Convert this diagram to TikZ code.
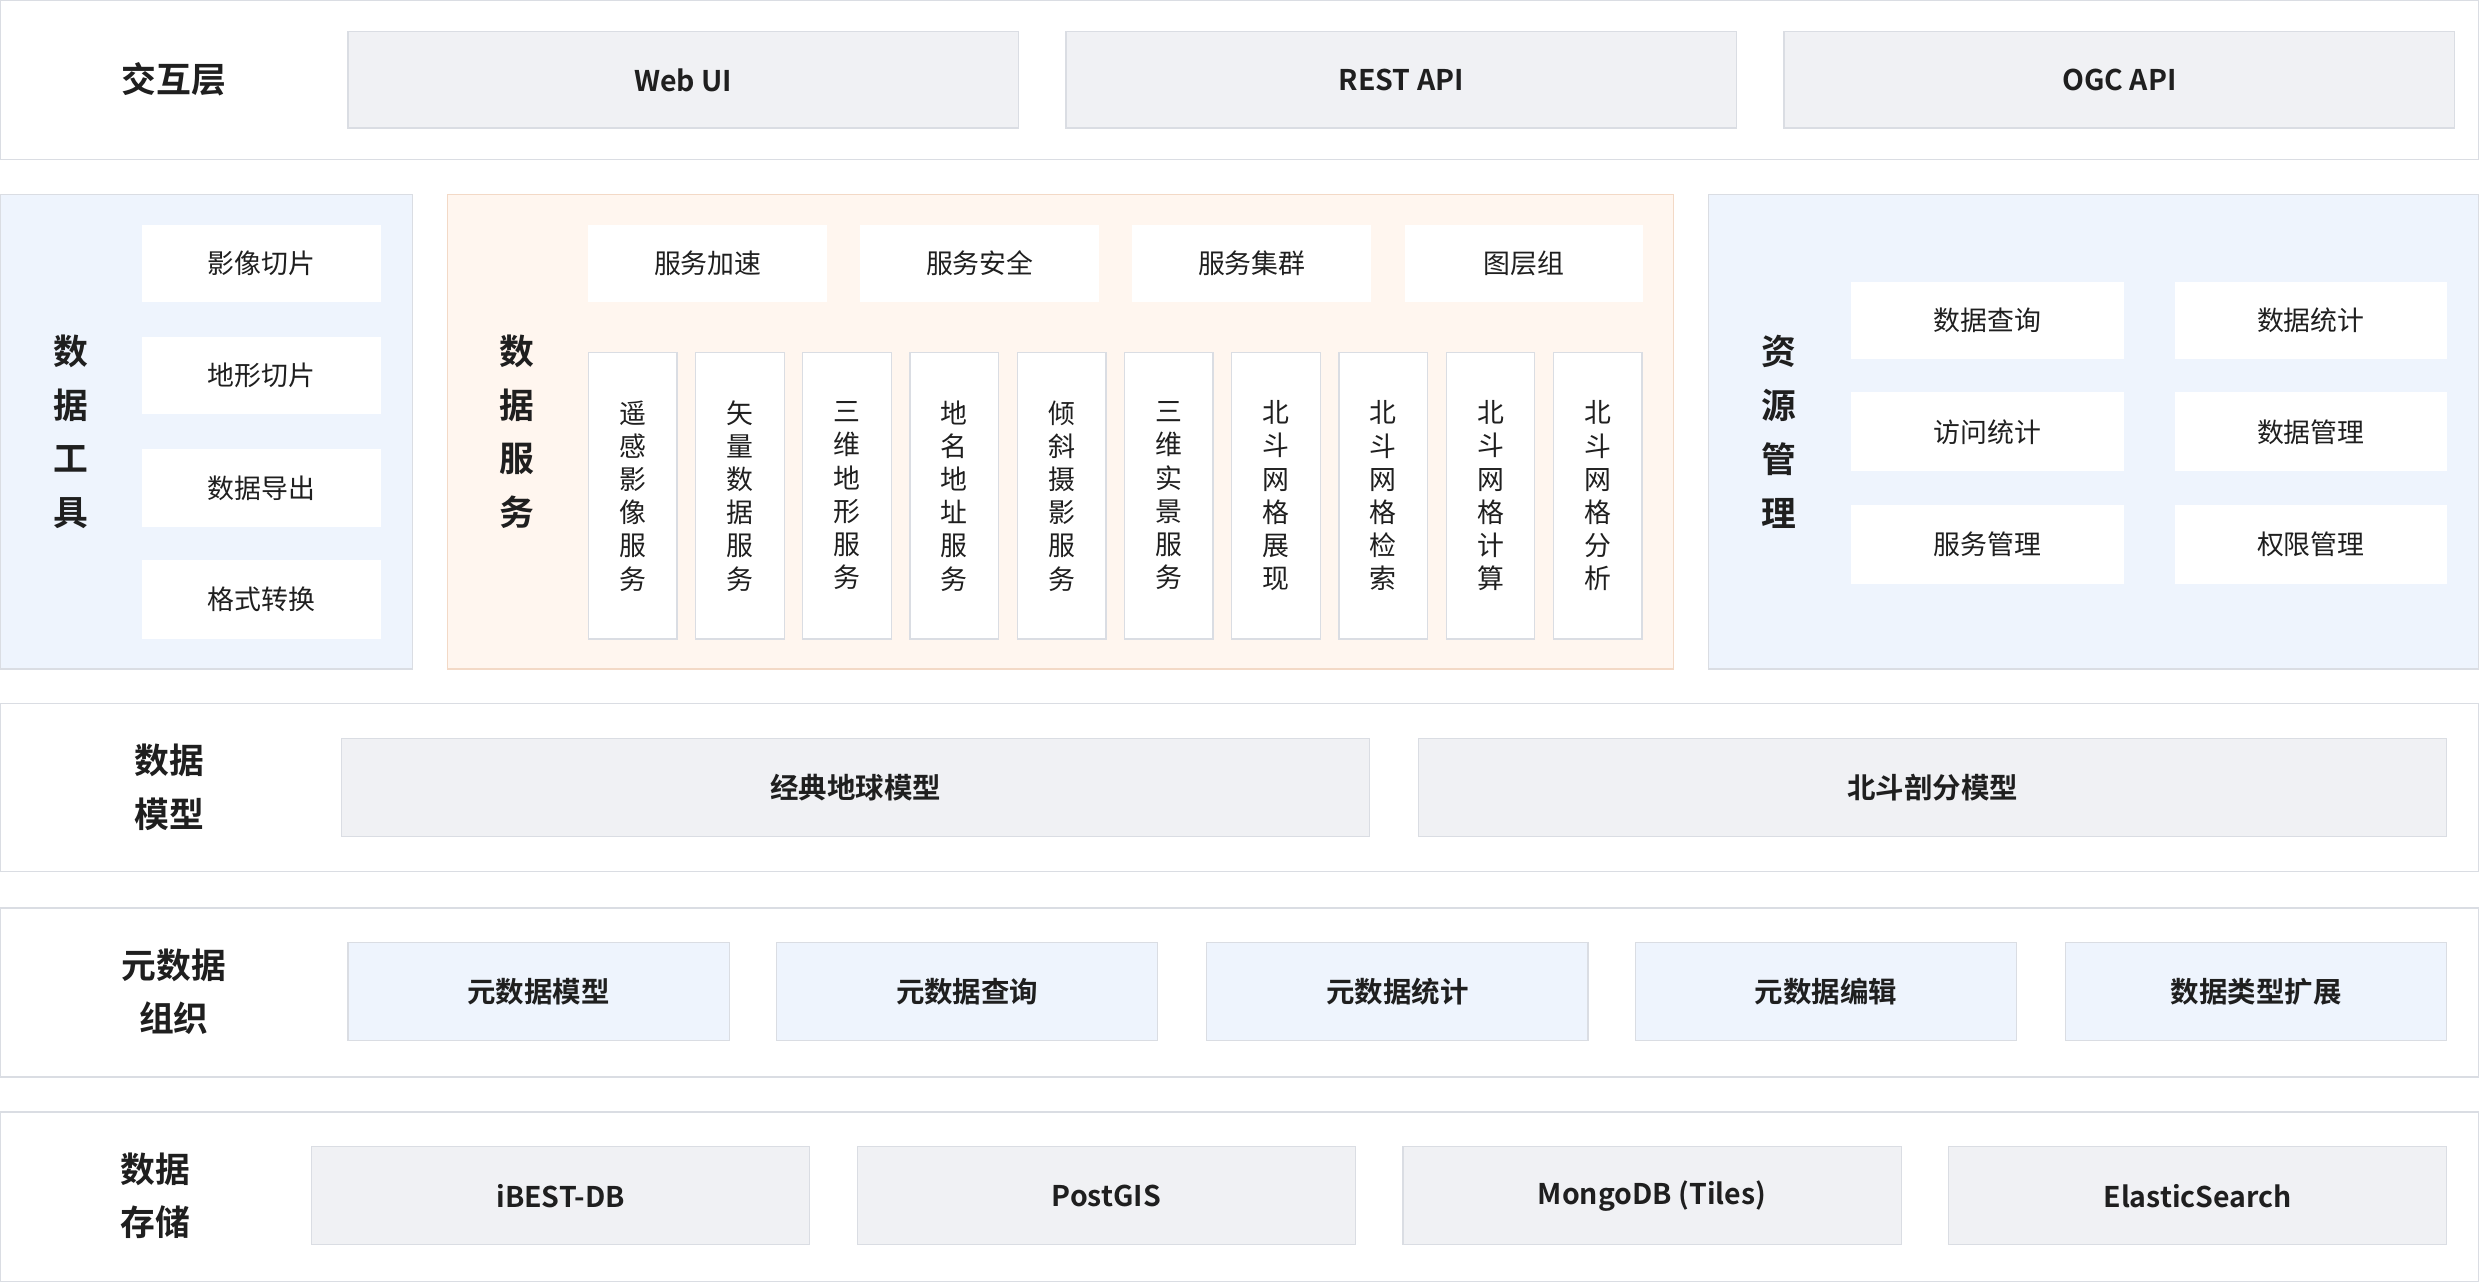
\documentclass[tikz,border=0pt]{standalone}
\usepackage{fontspec}
\setmainfont{Noto Sans CJK SC}
\newfontfamily\cjkb{Noto Sans CJK SC Bold}
\definecolor{bord}{HTML}{DADDE3}
\definecolor{grayfill}{HTML}{F0F1F4}
\definecolor{bluefill}{HTML}{EEF4FD}
\definecolor{orfill}{HTML}{FFF6EF}
\definecolor{orbord}{HTML}{F3D9C6}
\definecolor{txt}{HTML}{1F1F1F}
\tikzset{
 layer/.style={draw=bord,fill=white,line width=0.8pt},
 panel/.style={draw=bord,line width=0.8pt},
 gbox/.style={draw=bord,fill=grayfill,line width=0.8pt,font=\cjkb\fontsize{18}{20}\selectfont,text=txt},
 bbox/.style={draw=bord,fill=bluefill,line width=0.8pt,font=\cjkb\fontsize{18}{20}\selectfont,text=txt},
 wbox/.style={draw=none,fill=white,font=\fontsize{17}{20}\selectfont,text=txt},
 cbox/.style={draw=bord,fill=white,line width=0.8pt,font=\fontsize{17}{21}\selectfont,text=txt,align=center},
 lab/.style={font=\cjkb\fontsize{22}{34}\selectfont,text=txt,align=center},
}
\newcommand{\rb}[4]{\node[#1,minimum width=#3-#2,minimum height=#4] at ({(#2+#3)/2},0) {};}
\begin{document}
\begin{tikzpicture}[x=1pt,y=-1pt]
\useasboundingbox (0,0) rectangle (1568,810.7);
% generic box macro via paths
\def\bx#1#2#3#4#5#6#7{\node[#1,minimum width={#4-#2},minimum height={#5-#3},inner sep=0pt] (#6) at ({(#2+#4)/2},{(#3+#5)/2}) {#7};}
% Row 1
\bx{layer}{0.5}{0.5}{1567}{101}{L1}{}
\node[lab] (l1) at (110,50) {交互层};
\bx{gbox}{220}{20}{644}{81}{webui}{Web UI}
\bx{gbox}{674}{20}{1098}{81}{rest}{REST API}
\bx{gbox}{1128}{20}{1552}{81}{ogc}{OGC API}
% Row 2 left
\bx{panel,fill=bluefill}{0.5}{123}{261}{423}{P1}{}
\node[lab] (l2) at (45,273) {数\\据\\工\\具};
\bx{wbox}{90}{142}{241}{191}{t1}{影像切片}
\bx{wbox}{90}{213}{241}{262}{t2}{地形切片}
\bx{wbox}{90}{284}{241}{333}{t3}{数据导出}
\bx{wbox}{90}{354}{241}{404}{t4}{格式转换}
% Row 2 middle
\bx{panel,fill=orfill,draw=orbord}{283}{123}{1058}{423}{P2}{}
\node[lab] (l3) at (327,273) {数\\据\\服\\务};
\bx{wbox}{372}{142}{523}{191}{s1}{服务加速}
\bx{wbox}{544}{142}{695}{191}{s2}{服务安全}
\bx{wbox}{716}{142}{867}{191}{s3}{服务集群}
\bx{wbox}{888}{142}{1039}{191}{s4}{图层组}
\foreach \i/\t in {0/{遥\\感\\影\\像\\服\\务},1/{矢\\量\\数\\据\\服\\务},2/{三\\维\\地\\形\\服\\务},3/{地\\名\\地\\址\\服\\务},4/{倾\\斜\\摄\\影\\服\\务},5/{三\\维\\实\\景\\服\\务},6/{北\\斗\\网\\格\\展\\现},7/{北\\斗\\网\\格\\检\\索},8/{北\\斗\\网\\格\\计\\算},9/{北\\斗\\网\\格\\分\\析}}{
 \pgfmathsetmacro\xa{372+67.8*\i}
 \node[cbox,minimum width=56,minimum height=181,inner sep=0pt] (c\i) at (\xa+28,313.5) {\t};
}
% Row 2 right
\bx{panel,fill=bluefill}{1080}{123}{1567}{423}{P3}{}
\node[lab] (l4) at (1125,273) {资\\源\\管\\理};
\bx{wbox}{1170}{178}{1343}{227}{r1}{数据查询}
\bx{wbox}{1375}{178}{1547}{227}{r2}{数据统计}
\bx{wbox}{1170}{248}{1343}{298}{r3}{访问统计}
\bx{wbox}{1375}{248}{1547}{298}{r4}{数据管理}
\bx{wbox}{1170}{319}{1343}{369}{r5}{服务管理}
\bx{wbox}{1375}{319}{1547}{369}{r6}{权限管理}
% Row 3
\bx{layer}{0.5}{445}{1567}{551}{L3}{}
\node[lab] (l5) at (107,498) {数据\\模型};
\bx{gbox}{216}{467}{866}{529}{m1}{经典地球模型}
\bx{gbox}{897}{467}{1547}{529}{m2}{北斗剖分模型}
% Row 4
\bx{layer}{0.5}{574}{1567}{681}{L4}{}
\node[lab] (l6) at (110,627) {元数据\\组织};
\bx{bbox}{220}{596}{461}{658}{e1}{元数据模型}
\bx{bbox}{491}{596}{732}{658}{e2}{元数据查询}
\bx{bbox}{763}{596}{1004}{658}{e3}{元数据统计}
\bx{bbox}{1034}{596}{1275}{658}{e4}{元数据编辑}
\bx{bbox}{1306}{596}{1547}{658}{e5}{数据类型扩展}
% Row 5
\bx{layer}{0.5}{703}{1567}{810}{L5}{}
\node[lab] (l7) at (98,756) {数据\\存储};
\bx{gbox}{197}{725}{512}{787}{d1}{iBEST-DB}
\bx{gbox}{542}{725}{857}{787}{d2}{PostGIS}
\bx{gbox}{887}{725}{1202}{787}{d3}{MongoDB (Tiles)}
\bx{gbox}{1232}{725}{1547}{787}{d4}{ElasticSearch}
\end{tikzpicture}
\end{document}
